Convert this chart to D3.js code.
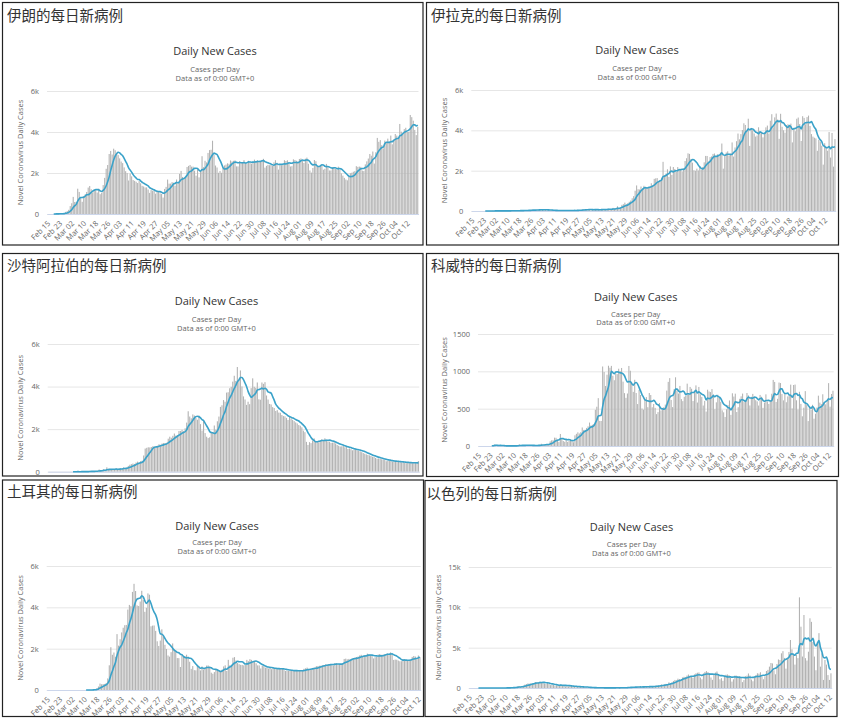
<!DOCTYPE html>
<html>
<head>
<meta charset="utf-8">
<script src="https://cdn.jsdelivr.net/npm/d3@7"></script>
<style>
body { margin: 0; background: #fff; }
svg { display: block; }
</style>
</head>
<body>
<svg id="chart" width="841" height="721"></svg>
<script>
// daily new cases from Feb 15, one row per month
const iranDaily = [
  null,null,null,null,2,3,13,10,15,18,34,44,106,143,205,
  385,523,835,586,591,1234,1076,743,595,881,958,1075,1289,1365,1209,1053,1178,1192,1046,1237,966,1028,1411,1762,2206,2389,2926,3076,2901,3186,3110,
  2987,2875,2715,2560,2483,2274,2089,1997,1634,1972,1837,1657,1617,1574,1512,1606,1499,1374,1343,1294,1297,1194,1030,1168,1134,1153,991,1112,1073,1006,
  976,802,1223,1323,1680,1481,1485,1556,1529,1383,1683,1481,1958,2102,1808,1757,1806,2294,2346,2392,2311,2311,2113,1869,2180,1787,2080,2819,2282,2596,2516,
  2979,3117,3134,3574,2886,2364,2269,2011,2095,2011,2238,2369,2410,2472,2449,2612,2563,2595,2615,2322,2322,2573,2536,2531,2628,2489,2456,2595,2536,2457,
  2549,2652,2560,2613,2566,2560,2637,2691,2262,2349,2397,2379,2388,2349,2521,2625,2500,2166,2414,2379,2414,2625,2586,2621,2434,2316,2333,2667,2636,2598,2549,
  2685,2708,2598,2489,2697,2751,2450,2125,2020,2245,2634,2575,2300,2300,2380,2385,2160,2206,2444,2336,2125,2123,2276,2277,2200,2160,2308,2145,1980,1870,1762,
  1682,1642,1848,1990,2015,2063,2092,2333,2298,2313,2300,2116,2094,2421,2569,2705,2927,2843,3049,2460,3012,3712,3521,3604,3362,3204,3582,3512,3677,3521,
  3825,3400,3635,3902,3825,3715,4392,4019,3898,4142,4206,4005,4003,4830,4725,4553,4103,3850,4251
];

const iraqDaily = [
  null,null,null,null,null,null,null,null,null,1,4,0,1,1,11,
  6,6,12,13,5,4,5,8,6,11,10,9,16,3,14,30,10,20,28,9,32,24,33,50,30,36,76,48,41,52,64,
  66,80,56,56,58,42,40,41,33,17,32,20,22,21,21,27,24,23,41,23,26,27,16,42,26,27,55,42,47,70,
  84,78,55,82,97,37,46,62,98,48,73,71,69,70,98,63,101,117,77,72,155,123,141,234,135,179,305,337,416,340,390,
  456,519,632,738,1006,1268,1082,1064,1215,1096,1250,1141,1158,1202,1209,1375,1286,1594,1618,1633,1477,1500,1650,2439,1774,1856,2068,1690,2210,1789,
  2182,2084,1939,2178,2034,2095,1955,2120,2478,2615,2860,2831,2583,2396,2022,1995,2100,2011,2210,2046,2185,2414,2731,2729,2452,2674,2708,2831,2851,2720,2814,
  2765,2890,3346,2100,2733,2900,2958,2740,2850,3400,2700,3150,3461,3841,3554,3813,4013,4348,4266,3940,4576,3228,4121,4009,3845,3690,3746,4151,3911,3886,3651,
  3890,4148,4236,3844,4476,4800,4151,4644,4832,4539,3578,4821,4177,4004,3883,4262,4301,4247,4333,3402,4128,3956,4574,4634,4312,3472,4700,4616,4300,4658,
  4730,4215,3814,3690,3635,3600,2984,3536,3441,3234,2300,3360,3151,2988,3914,2650,3870,2200,3566
];

const saudiDaily = [
  null,null,null,null,null,null,null,null,null,null,null,null,null,null,null,
  null,1,0,1,3,0,0,6,4,5,0,24,41,17,3,15,38,36,103,67,70,119,51,205,133,112,99,92,96,154,110,
  157,165,140,206,138,190,272,327,355,382,364,429,472,435,493,518,762,1088,1122,1147,1141,1158,1197,1172,1197,1223,1289,1266,1325,1351,
  1344,1362,1552,1645,1595,1687,1793,1701,1704,1912,1911,1966,1905,2039,2307,2840,2593,2509,2691,2642,2532,2442,2642,2235,1931,2399,1815,1644,1581,1618,1877,
  1869,2171,1975,2369,2591,3045,3121,3366,3288,3717,3733,3921,3989,4233,4507,4267,4919,4301,4757,4007,3538,3393,3139,3288,3172,3927,4387,3989,3943,4193,
  3402,3383,4193,4128,4207,3580,3392,3183,3159,3036,2994,2852,2892,2779,2771,2665,2613,2600,2529,2431,2576,2501,2438,2378,2317,2268,2193,2159,2086,1929,1857,
  1402,1258,1389,1342,1469,1567,1428,1413,1382,1469,1521,1482,1569,1501,1428,1409,1357,1363,1379,1328,1257,1218,1184,1191,1211,1146,1162,1069,1093,1059,1005,
  1031,1063,1004,989,953,918,877,843,812,786,767,742,703,700,646,613,623,609,585,569,555,492,524,516,512,472,492,467,472,455,
  464,441,452,428,403,436,420,414,402,436,417,391,495
];

const kuwaitDaily = [
  null,null,null,null,null,null,null,null,null,3,5,18,17,0,2,
  11,0,0,0,2,0,3,3,4,4,0,2,8,20,12,11,7,2,12,11,14,12,3,0,0,13,13,17,30,15,9,
  25,25,25,62,76,77,112,110,83,55,161,104,67,56,92,55,70,93,80,50,143,163,183,168,185,248,215,217,242,263,
  314,276,284,295,485,526,641,336,335,1065,991,804,955,1075,1048,1073,941,881,970,963,1035,1003,1045,862,708,645,703,1072,1008,845,725,
  887,710,562,754,683,502,487,630,655,520,710,683,519,562,511,427,454,575,476,493,521,555,742,859,909,617,521,760,920,745,
  703,805,628,601,659,671,835,688,791,767,602,729,812,582,791,691,657,542,604,461,754,730,722,762,690,493,585,687,649,592,478,
  451,389,492,548,610,417,706,662,701,455,520,632,665,702,588,613,710,678,543,659,698,665,614,598,542,684,660,511,582,692,596,
  563,613,700,885,858,590,632,850,843,696,611,703,586,664,682,822,503,817,823,612,488,726,564,398,513,735,548,334,535,484,
  552,366,432,515,674,581,563,693,589,558,601,842,527,696,740
];

const turkeyDaily = [
  null,null,null,null,null,null,null,null,null,null,null,null,null,null,null,
  null,null,null,null,null,null,null,null,null,null,1,0,4,1,12,29,51,93,168,311,277,289,293,343,561,1196,2069,1704,1815,1610,2704,
  2148,2456,2786,3013,3135,3148,3892,4117,4056,4747,5138,4789,4093,4062,4281,4801,4353,3783,3977,4674,4611,3083,3116,3122,2861,2357,2131,2392,2936,2615,
  2188,1983,1670,1614,1832,2253,1977,1848,1546,1542,1114,1704,1641,1635,1708,1610,1368,1022,1158,961,952,1186,1141,948,1141,987,1035,1182,1186,1141,839,
  786,867,989,988,930,878,987,1141,1195,922,1459,1195,1214,1562,1592,1429,1304,1248,1217,1214,1192,1212,1458,1394,1492,1458,1356,1374,1293,1192,
  1192,1041,1172,1148,1083,1086,1039,1090,1008,1068,1016,1012,1008,1023,1038,1052,987,919,937,930,940,942,949,937,927,919,921,926,931,1026,1050,
  1083,993,993,1006,1077,1090,1153,1163,1172,1183,1193,1212,1243,1226,1256,1263,1233,1192,1303,1298,1263,1214,1256,1309,1502,1517,1483,1505,1482,1517,1549,
  1572,1596,1620,1671,1704,1637,1682,1645,1761,1716,1702,1671,1527,1587,1597,1716,1742,1705,1710,1724,1732,1767,1743,1821,1737,1456,1473,1467,1424,1391,
  1394,1502,1497,1435,1444,1430,1450,1601,1643,1621,1489,1670,1589
];

const israelDaily = [
  null,null,null,null,null,null,1,0,1,0,0,0,1,2,3,
  2,0,2,3,2,5,4,11,11,18,25,20,38,51,93,82,113,181,252,148,213,280,424,485,569,534,600,520,611,735,710,
  698,790,720,626,569,498,670,525,353,441,376,241,324,308,377,429,355,275,189,297,211,280,248,214,128,98,124,198,152,126,
  118,85,62,60,32,62,43,43,17,23,13,30,23,16,14,10,12,20,25,12,40,20,25,13,15,28,22,79,58,54,114,
  90,127,116,122,123,115,142,190,111,171,165,190,127,220,170,168,214,279,306,286,304,442,357,436,511,486,706,605,689,870,
  1000,950,1157,1107,1048,1307,1387,1350,1541,1670,1533,1386,1245,1689,1817,1893,1928,1290,1080,1814,1991,2097,1977,1807,1305,1013,1744,1912,2044,1719,1080,
  1223,889,1425,1643,1680,1600,1323,790,1080,1548,1526,1487,1453,1284,730,978,1470,1530,1800,1543,1050,834,1380,1618,1825,1780,1950,1430,1080,1450,2106,
  2250,2650,3100,3045,2190,1700,2980,3540,3470,4300,4570,3730,2400,3650,4470,5950,4800,4200,2900,4100,3700,11240,7600,3900,9050,3700,3400,4500,8640,8200,
  5700,3900,2200,5700,6800,2650,4300,1000,3470,2900,1600,1000,1820
];

const xTickLabels = ["Feb 15","Feb 23","Mar 02","Mar 10","Mar 18","Mar 26","Apr 03","Apr 11","Apr 19","Apr 27",
  "May 05","May 13","May 21","May 29","Jun 06","Jun 14","Jun 22","Jun 30","Jul 08","Jul 16","Jul 24",
  "Aug 01","Aug 09","Aug 17","Aug 25","Sep 02","Sep 10","Sep 18","Sep 26","Oct 04","Oct 12"];

const ticks6k = [0, 2000, 4000, 6000];
const labels6k = ["0", "2k", "4k", "6k"];
const ticksKuwait = [0, 500, 1000, 1500];
const labelsKuwait = ["0", "500", "1000", "1500"];
const ticksIsrael = [0, 5000, 10000, 15000];
const labelsIsrael = ["0", "5k", "10k", "15k"];

// layout of the six screenshots
const panels = [
  { name: "伊朗的每日新病例", data: iranDaily, ticks: ticks6k, labels: labels6k,
    box: [2.5, 2.5, 420.5, 242.5], l: 47, r: 418.5, top: 91, bottom: 214,
    nameX: 7, nameY: 21, headX: 215, headY: 55, subY: 72, yTitleX: 20 },
  { name: "伊拉克的每日新病例", data: iraqDaily, ticks: ticks6k, labels: labels6k,
    box: [426.5, 2.5, 412, 242.5], l: 471.3, r: 835.7, top: 90, bottom: 211,
    nameX: 431, nameY: 21, headX: 637, headY: 54, subY: 71, yTitleX: 444.7 },
  { name: "沙特阿拉伯的每日新病例", data: saudiDaily, ticks: ticks6k, labels: labels6k,
    box: [2.5, 253.5, 420.5, 222.5], l: 47.7, r: 419.3, top: 344, bottom: 471.7,
    nameX: 7, nameY: 271, headX: 216.5, headY: 305, subY: 322, yTitleX: 20.7 },
  { name: "科威特的每日新病例", data: kuwaitDaily, ticks: ticksKuwait, labels: labelsKuwait,
    box: [426.5, 253.5, 412, 223], l: 478, r: 833.7, top: 334, bottom: 446,
    nameX: 431, nameY: 271, headX: 635.7, headY: 301, subY: 316.7, yTitleX: 444.7 },
  { name: "土耳其的每日新病例", data: turkeyDaily, ticks: ticks6k, labels: labels6k,
    box: [2.5, 480, 421, 236.5], l: 46.7, r: 420.7, top: 566, bottom: 690,
    nameX: 7, nameY: 497, headX: 217, headY: 529.5, subY: 545, yTitleX: 20 },
  { name: "以色列的每日新病例", data: israelDaily, ticks: ticksIsrael, labels: labelsIsrael,
    box: [425, 480.5, 412, 236], l: 468.7, r: 831.7, top: 567, bottom: 688,
    nameX: 426.5, nameY: 498.5, headX: 631.5, headY: 531, subY: 547, yTitleX: 438 }
];

const svg = d3.select("#chart");
const start = new Date(2020, 1, 15);
const fmt = d3.timeFormat("%b %d");
const font = "'Open Sans', 'DejaVu Sans', sans-serif";

// trailing 7-day mean, same as the site's line
function movingAvg(vals) {
  return vals.map((v, i) => {
    if (v == null) return null;
    const w = vals.slice(Math.max(0, i - 6), i + 1).filter(d => d != null);
    return d3.mean(w);
  });
}

panels.forEach((p, k) => {
  const cats = p.data.map((d, i) => fmt(d3.timeDay.offset(start, i)));
  const [bx, by, bw, bh] = p.box;

  svg.append("clipPath").attr("id", "clip" + k)
    .append("rect").attr("x", bx).attr("y", by).attr("width", bw).attr("height", bh);

  const g = svg.append("g").attr("clip-path", `url(#clip${k})`);

  const x = d3.scaleBand().domain(cats).range([p.l, p.r]);
  const y = d3.scaleLinear().domain([0, p.ticks[p.ticks.length - 1]]).range([p.bottom, p.top]);

  // grid + y labels
  const gy = g.append("g").attr("transform", `translate(${p.l},0)`)
    .call(d3.axisLeft(y).tickValues(p.ticks).tickFormat((d, i) => p.labels[i])
      .tickSize(-(p.r - p.l)).tickPadding(8));
  gy.select(".domain").remove();
  gy.selectAll("line").attr("stroke", "#e6e6e6");
  gy.selectAll("text").attr("font-family", font).attr("font-size", 7.5).attr("fill", "#666");

  // bars
  const bw2 = x.bandwidth() * 0.72;
  g.append("g").selectAll("rect")
    .data(p.data.map((v, i) => ({ c: cats[i], v })).filter(d => d.v != null && d.v > 0))
    .join("rect")
    .attr("x", d => x(d.c) + (x.bandwidth() - bw2) / 2)
    .attr("width", bw2)
    .attr("y", d => y(d.v))
    .attr("height", d => y(0) - y(d.v))
    .attr("fill", "#b3b3b3");

  // x axis
  const gx = g.append("g").attr("transform", `translate(0,${p.bottom})`)
    .call(d3.axisBottom(x).tickValues(xTickLabels.filter(t => cats.includes(t))).tickSize(0).tickPadding(0));
  gx.select(".domain").attr("stroke", "#ccd6eb");
  gx.selectAll("text")
    .attr("font-family", font).attr("font-size", 7.5).attr("fill", "#666")
    .attr("text-anchor", "end").attr("x", 0).attr("y", 0).attr("dy", null)
    .attr("transform", "translate(3,10) rotate(-45)");

  // moving average line
  const ma = movingAvg(p.data);
  g.append("path")
    .datum(ma)
    .attr("fill", "none")
    .attr("stroke", "#3aa2c9")
    .attr("stroke-width", 1.6)
    .attr("d", d3.line()
      .defined(d => d != null)
      .x((d, i) => x(cats[i]) + x.bandwidth() / 2)
      .y(d => y(d))
      .curve(d3.curveMonotoneX));

  // texts
  g.append("text").attr("x", p.nameX).attr("y", p.nameY)
    .attr("font-family", "'Noto Sans CJK SC', sans-serif").attr("font-size", 14.5).attr("fill", "#333")
    .text(p.name);
  g.append("text").attr("x", p.headX).attr("y", p.headY).attr("text-anchor", "middle")
    .attr("font-family", font).attr("font-size", 11).attr("fill", "#333")
    .text("Daily New Cases");
  g.append("text").attr("x", p.headX).attr("y", p.subY).attr("text-anchor", "middle")
    .attr("font-family", font).attr("font-size", 7.5).attr("fill", "#666")
    .text("Cases per Day");
  g.append("text").attr("x", p.headX).attr("y", p.subY + 8.5).attr("text-anchor", "middle")
    .attr("font-family", font).attr("font-size", 7.5).attr("fill", "#666")
    .text("Data as of 0:00 GMT+0");
  g.append("text")
    .attr("transform", `translate(${p.yTitleX},${(p.top + p.bottom) / 2}) rotate(-90)`)
    .attr("text-anchor", "middle").attr("dy", "0.35em")
    .attr("font-family", font).attr("font-size", 7.5).attr("fill", "#666")
    .text("Novel Coronavirus Daily Cases");

  // frame
  svg.append("rect").attr("x", bx).attr("y", by).attr("width", bw).attr("height", bh)
    .attr("fill", "none").attr("stroke", "#222").attr("stroke-width", 1.2);
});
</script>
</body>
</html>
